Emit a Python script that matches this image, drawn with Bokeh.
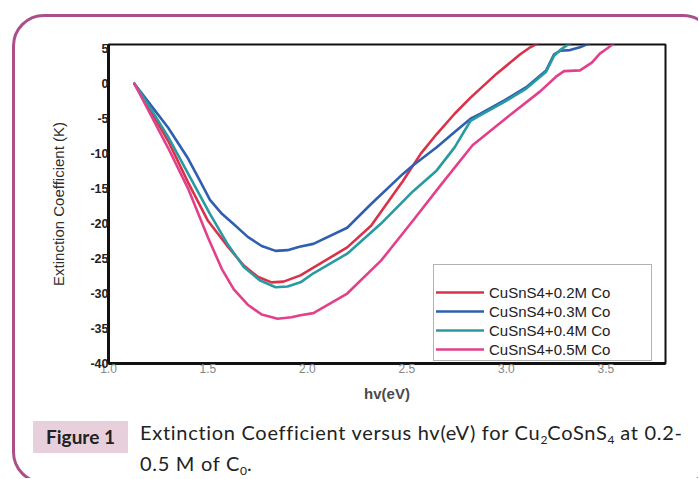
from bokeh.plotting import figure
from bokeh.models import (Range1d, FixedTicker, Legend, LegendItem, Div,
                          InlineStyleSheet)
from bokeh.layouts import column
from bokeh.embed import file_html
from bokeh.resources import INLINE

# ---------------- data ----------------
x_02 = [1.13, 1.2, 1.3, 1.4, 1.5, 1.6, 1.68, 1.75, 1.82, 1.88, 1.965, 2.03,
        2.2, 2.32, 2.48, 2.57, 2.65, 2.74, 2.82, 2.95, 3.07, 3.12, 3.2]
y_02 = [0, -3.3, -8.2, -14.1, -19.6, -23.3, -26.0, -27.6, -28.4, -28.3, -27.4,
        -26.3, -23.4, -20.3, -13.9, -10.0, -7.2, -4.3, -2.0, 1.4, 4.2, 5.2, 6.4]

x_03 = [1.13, 1.2, 1.3, 1.4, 1.46, 1.51, 1.57, 1.63, 1.7, 1.77, 1.84, 1.9,
        1.96, 2.03, 2.2, 2.32, 2.48, 2.53, 2.65, 2.74, 2.82, 2.87, 2.99, 3.1,
        3.2, 3.24, 3.27, 3.32, 3.37, 3.42]
y_03 = [0, -2.6, -6.3, -10.7, -13.9, -16.6, -18.6, -20.1, -21.9, -23.2, -23.9,
        -23.8, -23.3, -22.9, -20.6, -17.2, -12.9, -11.7, -9.1, -6.9, -5.0, -4.3,
        -2.4, -0.5, 1.9, 4.2, 4.7, 4.8, 5.2, 5.8]

x_04 = [1.13, 1.2, 1.3, 1.42, 1.51, 1.6, 1.68, 1.76, 1.84, 1.9, 1.965, 2.03,
        2.2, 2.37, 2.53, 2.65, 2.74, 2.82, 2.87, 2.99, 3.1, 3.2, 3.24, 3.27,
        3.3, 3.33]
y_04 = [0, -3.0, -7.6, -13.9, -18.6, -23.0, -26.2, -28.1, -29.1, -29.0, -28.4,
        -27.1, -24.3, -20.0, -15.4, -12.4, -9.1, -5.3, -4.5, -2.6, -0.7, 1.7,
        4.0, 4.8, 5.4, 5.9]

x_05 = [1.13, 1.2, 1.3, 1.4, 1.5, 1.57, 1.63, 1.7, 1.77, 1.85, 1.92, 1.965,
        2.03, 2.2, 2.37, 2.53, 2.67, 2.83, 3.0, 3.17, 3.25, 3.29, 3.37, 3.43,
        3.47, 3.51, 3.56]
y_05 = [0, -3.8, -9.2, -15.0, -22.0, -26.5, -29.4, -31.6, -33.0, -33.6, -33.4,
        -33.1, -32.8, -30.0, -25.3, -19.6, -14.5, -8.8, -4.9, -1.1, 1.0, 1.8,
        1.9, 3.0, 4.3, 5.1, 6.2]

series_labels = ["CuSnS4+0.2M Co", "CuSnS4+0.3M Co", "CuSnS4+0.4M Co",
                 "CuSnS4+0.5M Co"]
series_colors = ["#d9324a", "#2f5fae", "#2a9aa2", "#e2408a"]

x_ticks = [1.0, 1.5, 2.0, 2.5, 3.0, 3.5]
x_tick_labels = ["1.0", "1.5", "2.0", "2.5", "3.0", "3.5"]
y_ticks = [5, 0, -5, -10, -15, -20, -25, -30, -35, -40]
y_tick_labels = ["5", "0", "-5", "-10", "-15", "-20", "-25", "-30", "-35", "-40"]

x_title = "hv(eV)"
y_title = "Extinction Coefficient (K)"
fig_tag = "Figure 1"
caption_line_1 = "Extinction Coefficient versus hv(eV) for Cu<sub>2</sub>CoSnS<sub>4</sub> at 0.2-"
caption_line_2 = "0.5 M of C<sub>0</sub>."

W = 698
FIG_H = 408
CAP_H = 70

# ---------------- figure ----------------
p = figure(width=W, height=FIG_H, output_backend="svg", toolbar_location=None,
           x_range=Range1d(1.0, 3.8), y_range=Range1d(-40, 5.6),
           min_border_left=108, min_border_right=W - 665, min_border_top=44,
           min_border_bottom=FIG_H - 363, margin=0)
p.background_fill_color = "white"
p.border_fill_color = "white"
p.outline_line_color = "#111111"
p.outline_line_width = 2
p.xgrid.visible = False
p.ygrid.visible = False

xs = [x_02, x_03, x_04, x_05]
ys = [y_02, y_03, y_04, y_05]
renderers = []
for x, y, c in zip(xs, ys, series_colors):
    r = p.line(x, y, line_color=c, line_width=2.6, line_join="round",
               line_cap="round")
    renderers.append(r)

for ax in (p.xaxis[0], p.yaxis[0]):
    ax.axis_line_color = "#111111"
    ax.axis_line_width = 3
    ax.major_tick_out = 0
    ax.major_tick_in = 0
    ax.minor_tick_out = 0
    ax.minor_tick_in = 0
    ax.major_label_standoff = 0
    ax.axis_label_text_font = "Liberation Sans"
    ax.major_label_text_font = "Liberation Sans"

p.xaxis.ticker = FixedTicker(ticks=x_ticks)
p.xaxis.major_label_overrides = dict(zip(x_ticks, x_tick_labels))
p.xaxis.major_label_text_color = "#858585"
p.xaxis.major_label_text_font_size = "12px"
p.xaxis.axis_label = x_title
p.xaxis.axis_label_text_color = "#4a4a4a"
p.xaxis.axis_label_text_font_style = "bold"
p.xaxis.axis_label_text_font_size = "15px"
p.xaxis.axis_label_standoff = 9

p.yaxis.ticker = FixedTicker(ticks=y_ticks)
p.yaxis.major_label_overrides = dict(zip(y_ticks, y_tick_labels))
p.yaxis.major_label_text_color = "#222222"
p.yaxis.major_label_text_font_size = "12.5px"
p.yaxis.major_label_text_font_style = "bold"
p.yaxis.axis_label = y_title
p.yaxis.axis_label_text_color = "#2e2e2e"
p.yaxis.axis_label_text_font_style = "normal"
p.yaxis.axis_label_text_font_size = "15px"
p.yaxis.axis_label_standoff = 20

legend = Legend(
    items=[LegendItem(label=l, renderers=[r]) for l, r in zip(series_labels, renderers)],
    location=(325, 2), title=" ", title_text_font_size="14px", title_standoff=0,
    border_line_color="#666666", border_line_width=1,
    background_fill_color="white", background_fill_alpha=1,
    padding=2, margin=0, spacing=1,
    glyph_width=48, glyph_height=18, label_height=18, label_width=160,
    label_standoff=5, label_text_font="Liberation Sans",
    label_text_font_size="15px", label_text_color="#222222")
p.add_layout(legend)

# ---------------- caption ----------------
cap_html = f"""<div style="position:relative; width:{W}px; height:{CAP_H}px; font-family:Lato, sans-serif; color:#222;">
<div style="position:absolute; left:33px; top:13px; width:95px; height:32px; line-height:32px; background:#e7cfdc; text-align:center; font-weight:bold; font-size:19px;">{fig_tag}</div>
<div style="position:absolute; left:140px; top:13px; height:22px; font-size:20px; line-height:22px; letter-spacing:0.7px; white-space:nowrap;">{caption_line_1}</div>
<div style="position:absolute; left:140px; top:44px; height:22px; font-size:20px; line-height:22px; letter-spacing:0.7px; white-space:nowrap;">{caption_line_2}</div>
</div>"""
sub_css = InlineStyleSheet(css="sub { font-size: 0.6em; vertical-align: -0.3em; line-height: 0; letter-spacing: 0; }")
cap = Div(text=cap_html, width=W, height=CAP_H, margin=0, stylesheets=[sub_css])

card_css = InlineStyleSheet(css="""
:host { position: relative; overflow: hidden; background: white; }
:host::before {
  content: ''; position: absolute; left: 12px; top: 14px;
  width: 703px; height: 470px; box-sizing: border-box;
  border: 3px solid #ab4f89; border-radius: 32px;
  pointer-events: none; z-index: 10;
}
""")
layout = column(p, cap, width=W, height=FIG_H + CAP_H, spacing=0,
                stylesheets=[card_css])

open("out.html", "w").write(file_html(layout, INLINE))
